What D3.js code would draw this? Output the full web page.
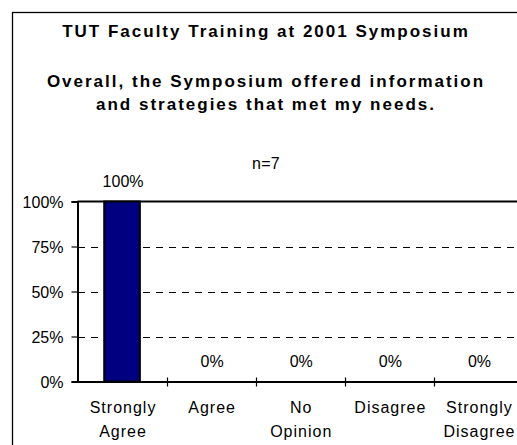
<!DOCTYPE html>
<html>
<head>
  <meta charset="UTF-8">
  <title>TUT Faculty Training</title>
  <style>
  body{
    margin: 0;
    background: #fff;
  }
  svg text{
    font-family: Arial, "Liberation Sans", sans-serif;
    fill: #000;
  }
  </style>
</head>
<body>
  <script src="https://cdn.jsdelivr.net/npm/d3@7"></script>
  <script type="text/javascript">
  // data
  var categories = ['Strongly Agree', 'Agree', 'No Opinion', 'Disagree', 'Strongly Disagree'];
  var categoryLines = [['Strongly', 'Agree'], ['Agree'], ['No', 'Opinion'], ['Disagree'], ['Strongly', 'Disagree']];
  var values = [100, 0, 0, 0, 0];
  var yTicks = [0, 25, 50, 75, 100];
  var titleLines = ['TUT Faculty Training at 2001 Symposium'];
  var subtitleLines = ['Overall, the Symposium offered information', 'and strategies that met my needs.'];
  var note = 'n=7';

  var width = 517, height = 445;
  var cx = 266;

  var svg = d3.select('body').append('svg')
    .attr('width', width)
    .attr('height', height);

  // chart area border
  svg.append('rect')
    .attr('x', 12.5).attr('y', 12.5)
    .attr('width', 506).attr('height', 460)
    .attr('fill', 'none')
    .attr('stroke', '#000')
    .attr('stroke-width', 1.3);

  // titles
  svg.append('text')
    .attr('x', cx).attr('y', 36.5)
    .attr('text-anchor', 'middle')
    .style('font-size', '17px').style('font-weight', 'bold').style('letter-spacing', '2px')
    .text(titleLines[0]);

  svg.selectAll('.sub')
    .data(subtitleLines)
    .enter()
    .append('text')
    .attr('class', 'sub')
    .attr('x', cx)
    .attr('y', function(d, i){ return 86.5 + i * 23; })
    .attr('text-anchor', 'middle')
    .style('font-size', '17px').style('font-weight', 'bold').style('letter-spacing', '2px')
    .text(function(d){ return d; });

  svg.append('text')
    .attr('x', 266).attr('y', 168.5)
    .attr('text-anchor', 'middle')
    .style('font-size', '16px').style('letter-spacing', '0.3px')
    .text(note);

  // scales
  var x = d3.scaleBand().domain(categories).range([77.5, 523]).padding(0);
  var y = d3.scaleLinear().domain([0, 100]).range([381.5, 201.5]);

  // grid lines
  svg.selectAll('.grid')
    .data(yTicks.filter(function(d){ return d > 0 && d < 100; }))
    .enter()
    .append('line')
    .attr('class', 'grid')
    .attr('x1', 78).attr('x2', 523)
    .attr('y1', function(d){ return Math.round(y(d)) + 0.5; })
    .attr('y2', function(d){ return Math.round(y(d)) + 0.5; })
    .attr('stroke', '#000')
    .attr('stroke-width', 1)
    .attr('stroke-dasharray', '7,6');

  // plot area top border
  svg.append('line')
    .attr('x1', 77.5).attr('x2', 523)
    .attr('y1', y(100)).attr('y2', y(100))
    .attr('stroke', '#000').attr('stroke-width', 2);

  // bars
  svg.selectAll('.bar')
    .data(values)
    .enter()
    .append('rect')
    .attr('class', 'bar')
    .attr('x', function(d, i){ return x(categories[i]) + x.bandwidth() * 0.3; })
    .attr('width', x.bandwidth() * 0.4)
    .attr('y', function(d){ return y(d); })
    .attr('height', function(d){ return y(0) - y(d); })
    .attr('fill', '#000080')
    .attr('stroke', '#000')
    .attr('stroke-width', function(d){ return d > 0 ? 2 : 0; });

  // value labels
  svg.selectAll('.val')
    .data(values)
    .enter()
    .append('text')
    .attr('class', 'val')
    .attr('x', function(d, i){ return x(categories[i]) + x.bandwidth() / 2 + 1; })
    .attr('y', function(d){ return y(d) - 15; })
    .attr('text-anchor', 'middle')
    .style('font-size', '16px')
    .text(function(d){ return d + '%'; });

  // y axis
  var yAxis = d3.axisLeft(y)
    .tickValues(yTicks)
    .tickSize(6)
    .tickPadding(8)
    .tickFormat(function(d){ return d + '%'; });

  var gy = svg.append('g')
    .attr('transform', 'translate(77.5,0)')
    .call(yAxis);
  gy.select('.domain').attr('stroke-width', 2).attr('stroke', '#000');
  gy.selectAll('.tick line').attr('stroke', '#000').attr('stroke-width', 1.2);
  gy.selectAll('.tick text')
    .style('font-size', '16px').style('font-family', 'Arial, "Liberation Sans", sans-serif')
    .attr('fill', '#000').attr('dy', '0.36em');

  // x axis
  var xAxis = d3.axisBottom(x)
    .tickSize(0)
    .tickFormat('');

  var gx = svg.append('g')
    .attr('transform', 'translate(0,' + y(0) + ')')
    .call(xAxis);
  gx.select('.domain').attr('stroke-width', 2).attr('stroke', '#000');

  // category separators
  svg.selectAll('.sep')
    .data(categories.slice(1))
    .enter()
    .append('line')
    .attr('class', 'sep')
    .attr('x1', function(d){ return Math.round(x(d)) + 0.5; })
    .attr('x2', function(d){ return Math.round(x(d)) + 0.5; })
    .attr('y1', y(0) - 4).attr('y2', y(0) + 5)
    .attr('stroke', '#000').attr('stroke-width', 1.2);

  // category labels
  var cat = svg.selectAll('.cat')
    .data(categoryLines)
    .enter()
    .append('text')
    .attr('class', 'cat')
    .attr('text-anchor', 'middle')
    .style('font-size', '16px').style('letter-spacing', '1px');

  cat.selectAll('tspan')
    .data(function(d, i){ return d.map(function(t){ return {t: t, i: i}; }); })
    .enter()
    .append('tspan')
    .attr('x', function(d){ return x(categories[d.i]) + x.bandwidth() / 2 + 1; })
    .attr('y', function(d, j){ return 413 + j * 24; })
    .text(function(d){ return d.t; });
  </script>
</body>
</html>
